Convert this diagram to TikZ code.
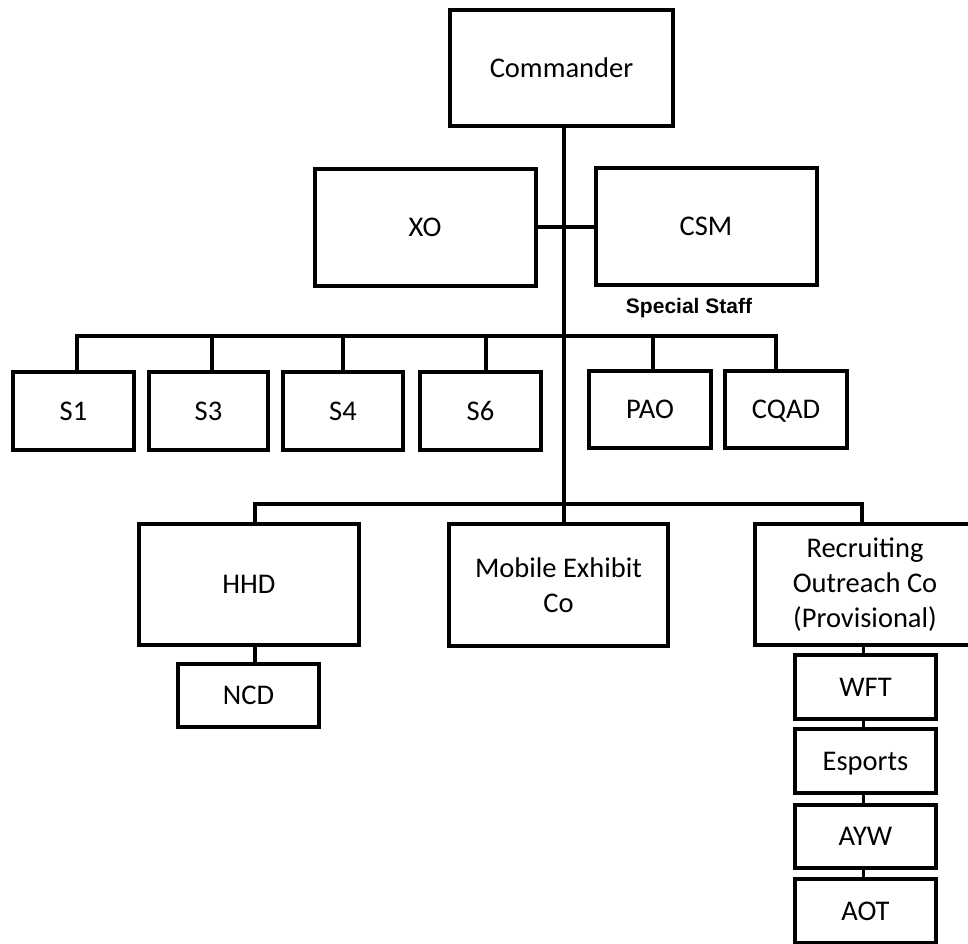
\documentclass[tikz,border=0pt]{standalone}
\usepackage{fontspec}
\setmainfont{Carlito}
\newfontfamily\arialfont{Liberation Sans}
\begin{document}
\begin{tikzpicture}[x=1pt,y=-1pt,
  box/.style={draw, line width=4pt, inner sep=0pt, outer sep=0pt, align=center,
    font=\fontsize{28.5}{35}\selectfont},
  oneline/.style={text height=18.4pt, text depth=0pt},
  big/.style={box, oneline, minimum width=221pt, minimum height=117pt},
  sbox/.style={box, oneline, minimum width=121pt, minimum height=78pt},
  unit/.style={box, minimum width=220pt, minimum height=121pt},
  small/.style={box, oneline, minimum width=141pt, minimum height=64pt},
  conn/.style={line width=4pt, line join=miter},
  thin conn/.style={line width=3pt}]
\useasboundingbox[fill=white] (0,0) rectangle (968,943);

% top level
\node[box, oneline, minimum width=223pt, minimum height=116pt] (cmd) at (561.5,68) {Commander};
\node[big] (xo) at (425,227) {XO};
\node[big] (csm) at (706,226) {CSM};
\node[anchor=base, inner sep=0pt, font=\arialfont\bfseries\fontsize{21}{25}\selectfont] (ss) at (689,313) {Special Staff};

% staff
\node[sbox] (s1) at (73.5,411) {S1};
\node[sbox, minimum width=119pt] (s3) at (208.5,411) {S3};
\node[sbox, minimum width=120pt] (s4) at (343,411) {S4};
\node[sbox] (s6) at (480.5,411) {S6};
\node[sbox, minimum width=122pt, minimum height=77pt] (pao) at (650,409.5) {PAO};
\node[sbox, minimum width=122pt, minimum height=77pt] (cqad) at (786,409.5) {CQAD};

% companies
\node[unit, oneline] (hhd) at (249,584.5) {HHD};
\node[unit, minimum width=219pt, minimum height=122pt] (mob) at (558.5,585) {Mobile Exhibit\\Co};
\node[unit] (rec) at (865,584.5) {Recruiting\\Outreach Co\\(Provisional)};
\node[small, minimum height=63pt] (ncd) at (248.5,695.5) {NCD};
\node[small] (wft) at (865.5,687) {WFT};
\node[small] (esp) at (865.5,761) {Esports};
\node[small, minimum height=63pt] (ayw) at (865.5,836.5) {AYW};
\node[small] (aot) at (865.5,911) {AOT};

% junction coordinates
\coordinate (tj) at (564,336);
\coordinate (bj) at (564,504);
\coordinate (t1) at (77,336);
\coordinate (t3) at (212,336);
\coordinate (t4) at (343,336);
\coordinate (t6) at (486,336);
\coordinate (tp) at (653,336);
\coordinate (tc) at (776,336);
\coordinate (bh) at (255,504);
\coordinate (br) at (862,504);
\coordinate (rc) at (863,0);

% trunk
\draw[conn] (cmd.south -| tj) -- (tj) -- (bj) -- (bj |- mob.north);
\draw[conn] (xo.east) -- (csm.west |- xo.east);

% staff bar
\draw[conn] (t1 |- s1.north) -- (t1) -- (tc) -- (tc |- cqad.north);
\draw[conn] (t3) -- (t3 |- s3.north);
\draw[conn] (t4) -- (t4 |- s4.north);
\draw[conn] (t6) -- (t6 |- s6.north);
\draw[conn] (tp) -- (tp |- pao.north);

% company bar
\draw[conn] (bh |- hhd.north) -- (bh) -- (br) -- (br |- rec.north);
\draw[conn] (hhd.south -| bh) -- (bh |- ncd.north);

% recruiting chain
\draw[thin conn] (rec.south -| rc) -- (rc |- wft.north);
\draw[thin conn] (wft.south -| rc) -- (rc |- esp.north);
\draw[thin conn] (esp.south -| rc) -- (rc |- ayw.north);
\draw[thin conn] (ayw.south -| rc) -- (rc |- aot.north);
\end{tikzpicture}
\end{document}
